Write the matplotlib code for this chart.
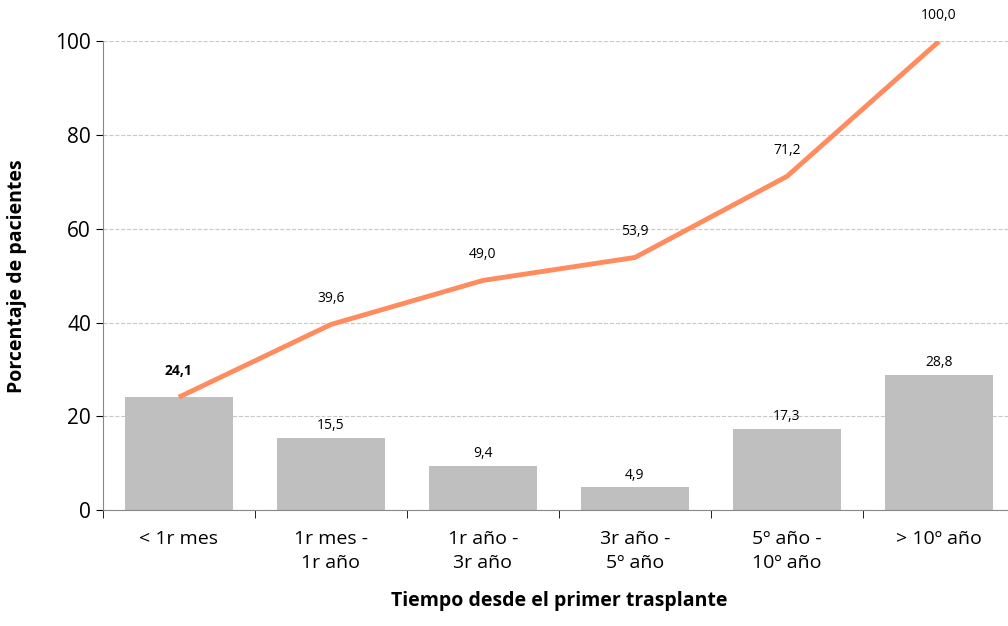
import numpy as np
import matplotlib.pyplot as plt

plt.rcParams['font.family'] = ['Open Sans', 'DejaVu Sans']

categories = ["< 1r mes", "1r mes -\n1r año", "1r año -\n3r año", "3r año -\n5º año", "5º año -\n10º año", "> 10º año"]
bar_values = [24.1, 15.5, 9.4, 4.9, 17.3, 28.8]
cum_values = [24.1, 39.6, 49.0, 53.9, 71.2, 100.0]

fig = plt.figure(figsize=(10.08, 6.26), dpi=100)
ax = fig.add_axes([0.102, 0.185, 0.905, 0.749])
x = np.arange(len(categories))

ax.bar(x, bar_values, 0.71, color="#BFBFBF", zorder=2)
ax.plot(x, cum_values, color="#FF8C5F", lw=3.5, zorder=3, solid_capstyle='butt')

for i, v in enumerate(bar_values):
    if i == 0:
        continue
    ax.text(i, v + 1.0, f"{v:.1f}".replace(".", ","), ha="center", va="bottom", fontsize=10)
for i, v in enumerate(cum_values):
    w = "bold" if i == 0 else "normal"
    ax.text(i, v + 4.0, f"{v:.1f}".replace(".", ","), ha="center", va="bottom", fontsize=10, fontweight=w)

ax.set_xlim(-0.5, 5.5)
ax.set_ylim(0, 100)
ax.set_yticks(range(0, 101, 20))
ax.yaxis.grid(True, ls="--", color="#C8C8C8", lw=0.8, zorder=0)
ax.set_xticks(x)
ax.set_xticklabels(categories, fontsize=14, linespacing=1.45)
ax.tick_params(axis="y", labelsize=15, length=5)
ax.tick_params(axis="x", pad=14)
ax.set_xticks(np.arange(-0.5, 6, 1), minor=True)
ax.tick_params(axis="x", which="minor", length=6)
ax.tick_params(axis="x", which="major", length=0)
for s in ["top", "right"]:
    ax.spines[s].set_visible(False)
ax.spines["left"].set_color("#888888")
ax.spines["bottom"].set_color("#888888")
ax.set_ylabel("Porcentaje de pacientes", fontsize=14, fontweight="bold", labelpad=20)
ax.set_xlabel("Tiempo desde el primer trasplante", fontsize=14, fontweight="bold", labelpad=14)

fig.savefig("out.png", dpi=100)
